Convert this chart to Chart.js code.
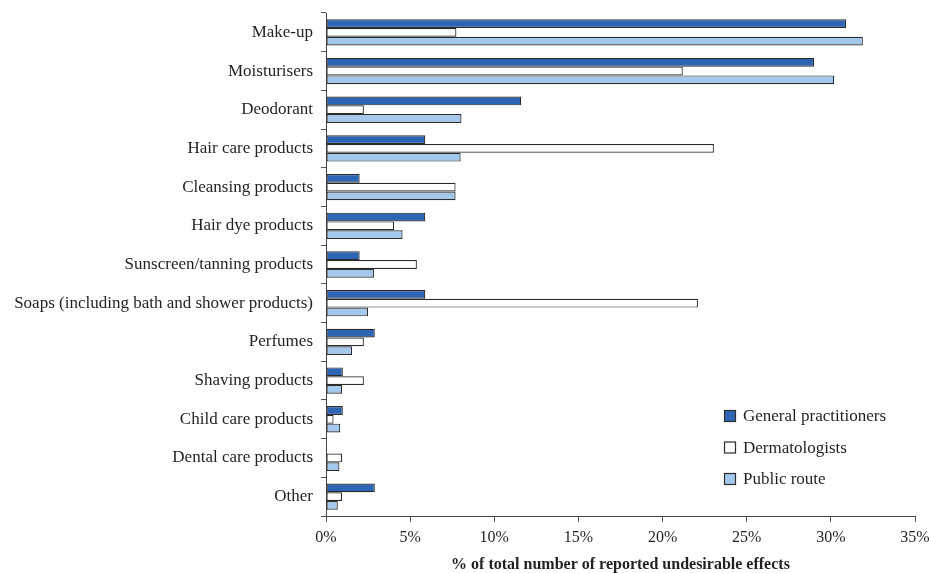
<!DOCTYPE html>
<html>
<head>
<meta charset="utf-8">
<script src="https://cdn.jsdelivr.net/npm/chart.js@4.4.1/dist/chart.umd.min.js"></script>
<style>
  html, body { margin: 0; padding: 0; background: #fff; }
  #wrap { width: 929px; height: 573px; position: relative; }
</style>
</head>
<body>
<div id="wrap"><canvas id="chartEffects"></canvas></div>
<script>
'use strict';

/* ── DATA ── */
const categories = [
  'Make-up', 'Moisturisers', 'Deodorant', 'Hair care products', 'Cleansing products',
  'Hair dye products', 'Sunscreen/tanning products', 'Soaps (including bath and shower products)',
  'Perfumes', 'Shaving products', 'Child care products', 'Dental care products', 'Other'
];
const seriesNames = ['General practitioners', 'Dermatologists', 'Public route'];
const gpValues     = [30.9, 29.0, 11.6, 5.9, 2.0, 5.9, 2.0, 5.9, 2.9, 1.0, 1.0, 0, 2.9];
const dermValues   = [7.75, 21.2, 2.25, 23.05, 7.7, 4.05, 5.4, 22.1, 2.25, 2.25, 0.45, 0.95, 0.95];
const publicValues = [31.9, 30.2, 8.05, 8.0, 7.7, 4.55, 2.85, 2.5, 1.55, 0.95, 0.85, 0.8, 0.7];
const xTicks = [0, 5, 10, 15, 20, 25, 30, 35];

const COLORS = ['#2c65b4', '#ffffff', '#a3c8ec'];
const EDGE = '#2b2b2b';
const SERIF = "'Liberation Serif', 'Times New Roman', serif";

/* ── Legend drawn inside the plot area (bottom right) ── */
const innerLegend = {
  id: 'innerLegend',
  afterDraw(chart) {
    const { ctx, chartArea } = chart;
    const x = chartArea.left + 398;
    const rows = [chartArea.bottom - 100, chartArea.bottom - 68.5, chartArea.bottom - 37];
    ctx.save();
    ctx.font = `17px ${SERIF}`;
    ctx.textBaseline = 'middle';
    chart.data.datasets.forEach((ds, i) => {
      const y = rows[i];
      ctx.fillStyle = ds.backgroundColor;
      ctx.fillRect(x + 0.5, y - 5.5, 11, 11);
      ctx.strokeStyle = EDGE;
      ctx.lineWidth = 1.2;
      ctx.strokeRect(x + 0.5, y - 5.5, 11, 11);
      ctx.fillStyle = '#231f20';
      ctx.fillText(ds.label, x + 19, y + 1);
    });
    ctx.restore();
  },
};

function makeSet(i, values) {
  return {
    label: seriesNames[i],
    data: values,
    backgroundColor: COLORS[i],
    borderColor: EDGE,
    borderWidth: 1.2,
    borderSkipped: false,
    categoryPercentage: 0.68,
    barPercentage: 1.0,
  };
}

new Chart(document.getElementById('chartEffects'), {
  type: 'bar',
  data: {
    labels: categories,
    datasets: [makeSet(0, gpValues), makeSet(1, dermValues), makeSet(2, publicValues)],
  },
  plugins: [innerLegend],
  options: {
    indexAxis: 'y',
    responsive: true,
    maintainAspectRatio: false,
    animation: false,
    layout: { padding: { left: 0, right: 14, top: 13, bottom: 0 } },
    plugins: {
      legend: { display: false },
      tooltip: { enabled: false },
    },
    scales: {
      x: {
        min: 0,
        max: 35,
        afterBuildTicks: s => { s.ticks = xTicks.map(v => ({ value: v })); },
        afterFit: s => { s.height = 57; s.paddingLeft = 0; s.paddingRight = 0; },
        grid: { drawOnChartArea: false, drawTicks: true, tickLength: 6, color: '#555' },
        border: { display: true, color: '#444', width: 1 },
        ticks: {
          callback: v => v + '%',
          font: { family: SERIF, size: 16 },
          color: '#231f20',
          padding: 6,
          maxRotation: 0,
        },
        title: {
          display: true,
          text: '% of total number of reported undesirable effects',
          font: { family: SERIF, size: 16, weight: 'bold', lineHeight: 1 },
          color: '#231f20',
          padding: { top: 0, bottom: 0 },
        },
      },
      y: {
        afterFit: s => { s.width = 326; s.paddingTop = 0; s.paddingBottom = 0; },
        grid: { drawOnChartArea: false, drawTicks: true, tickLength: 5, color: '#555', offset: true },
        border: { display: true, color: '#444', width: 1 },
        ticks: {
          font: { family: SERIF, size: 17 },
          color: '#231f20',
          padding: 8,
          autoSkip: false,
        },
      },
    },
  },
});
</script>
</body>
</html>
